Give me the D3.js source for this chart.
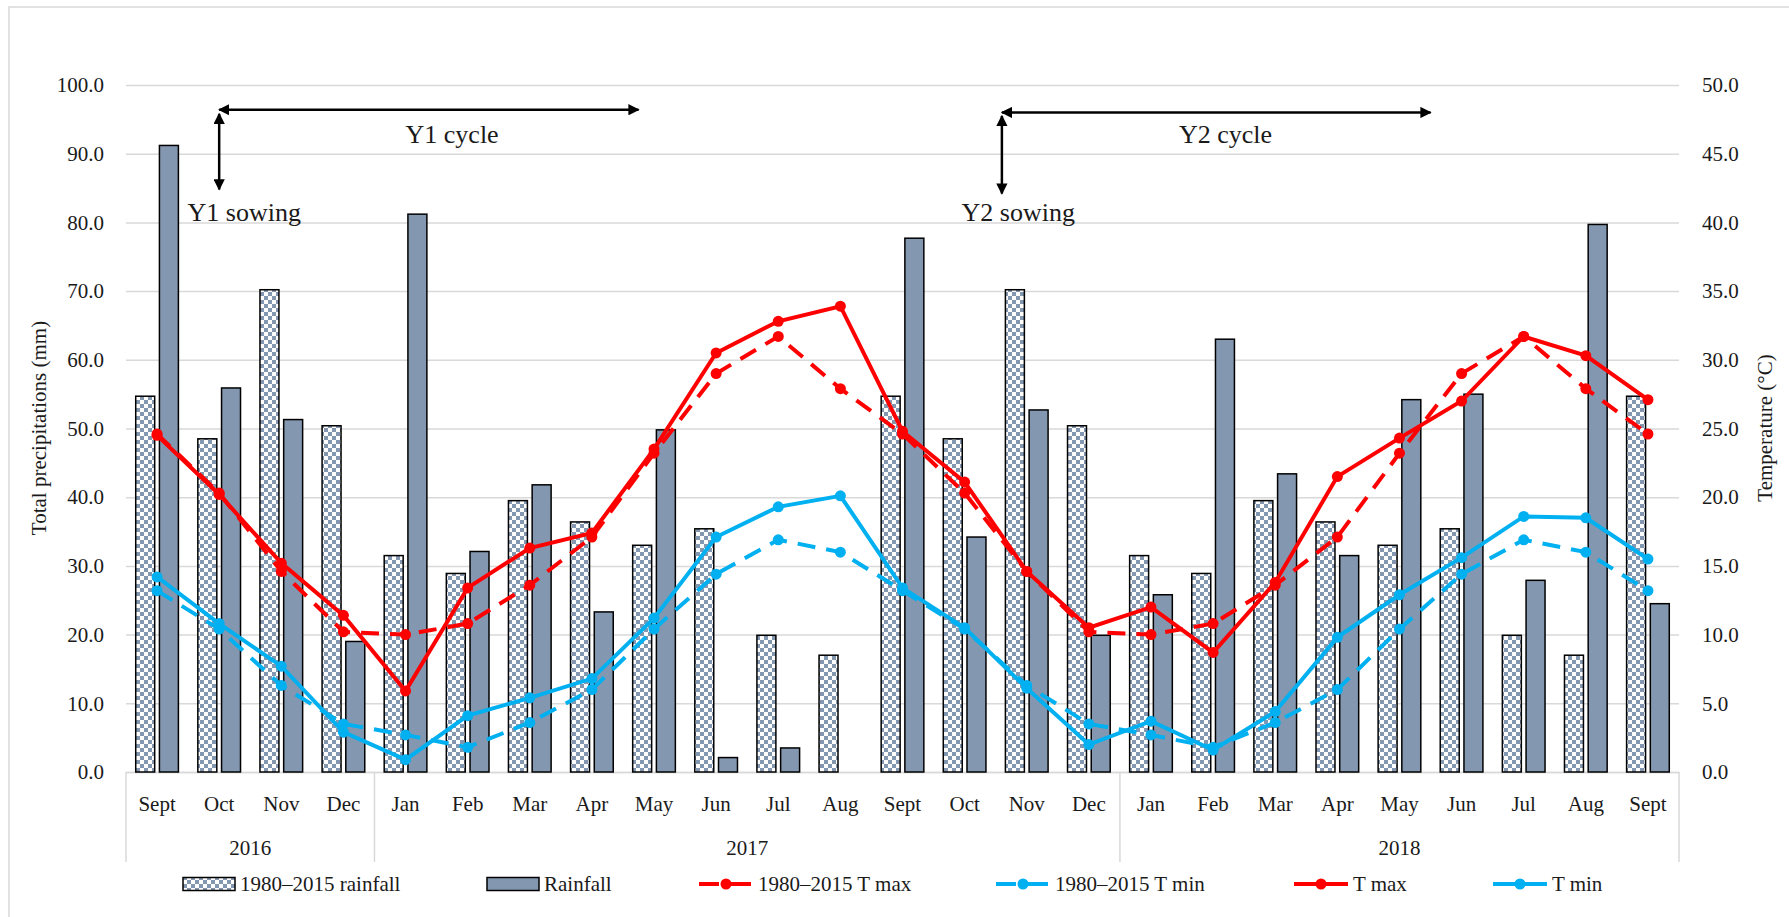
<!DOCTYPE html>
<html>
<head>
<meta charset="utf-8">
<script src="https://cdn.jsdelivr.net/npm/d3@7"></script>
<style>
  body { margin: 0; background: #fff; }
  text { font-family: "Liberation Serif", "Times New Roman", serif; fill: #1a1a1a; }
</style>
</head>
<body>
<svg id="chart"></svg>
<script>
// categories
var months = ["Sept", "Oct", "Nov", "Dec",
  "Jan", "Feb", "Mar", "Apr", "May", "Jun", "Jul", "Aug", "Sept", "Oct", "Nov", "Dec",
  "Jan", "Feb", "Mar", "Apr", "May", "Jun", "Jul", "Aug", "Sept"];
var years = ["2016", "2017", "2018"];
var yearCounts = [4, 12, 9];

// rainfall (mm), left axis
var normalRain = [54.7, 48.5, 70.2, 50.4,
  31.5, 28.9, 39.5, 36.4, 33.0, 35.4, 19.9, 17.0, 54.7, 48.5, 70.2, 50.4,
  31.5, 28.9, 39.5, 36.4, 33.0, 35.4, 19.9, 17.0, 54.7];
var rainfall = [91.2, 55.9, 51.3, 19.0,
  81.2, 32.1, 41.8, 23.3, 49.8, 2.1, 3.5, 0, 77.7, 34.2, 52.7, 19.9,
  25.8, 63.0, 43.4, 31.5, 54.2, 55.0, 27.9, 79.7, 24.5];

// temperatures (°C), right axis
var normalTmax = [24.6, 20.3, 14.6, 10.2,
  10.0, 10.8, 13.6, 17.1, 23.2, 29.0, 31.7, 27.9, 24.6, 20.3, 14.6, 10.2,
  10.0, 10.8, 13.6, 17.1, 23.2, 29.0, 31.7, 27.9, 24.6];
var normalTmin = [13.2, 10.4, 6.3, 3.5,
  2.7, 1.8, 3.6, 6.0, 10.4, 14.4, 16.9, 16.0, 13.2, 10.4, 6.3, 3.5,
  2.7, 1.8, 3.6, 6.0, 10.4, 14.4, 16.9, 16.0, 13.2];
var tmax = [24.5, 20.2, 15.2, 11.4,
  5.9, 13.4, 16.3, 17.4, 23.5, 30.5, 32.8, 33.9, 24.8, 21.1, 14.6, 10.5,
  12.0, 8.7, 13.8, 21.5, 24.3, 27.0, 31.7, 30.3, 27.1];
var tmin = [14.2, 10.8, 7.7, 2.9,
  0.9, 4.1, 5.4, 6.8, 11.2, 17.1, 19.3, 20.1, 13.4, 10.5, 6.1, 2.0,
  3.7, 1.6, 4.4, 9.8, 12.9, 15.6, 18.6, 18.5, 15.5];

var rainTicks = d3.range(0, 101, 10);
var tempTicks = d3.range(0, 51, 5);

var W = 1789, H = 917;
var plot = { left: 126, right: 1679, top: 85, bottom: 772 };

var svg = d3.select("#chart").attr("width", W).attr("height", H);

var x = d3.scaleBand().domain(d3.range(months.length)).range([plot.left, plot.right]);
var xBar = d3.scaleBand().domain(["normal", "rain"]).range([0, x.bandwidth()])
  .paddingInner(0.2).paddingOuter(0.41);
var yL = d3.scaleLinear().domain([0, 100]).range([plot.bottom, plot.top]);
var yR = d3.scaleLinear().domain([0, 50]).range([plot.bottom, plot.top]);

var red = "#ff0000", blue = "#00b0f0", barColor = "#8497b0";

// outer frame
svg.append("rect").attr("x", 9).attr("y", 7).attr("width", 1800).attr("height", 1000)
  .attr("fill", "none").attr("stroke", "#d9d9d9").attr("stroke-width", 1.5);

var defs = svg.append("defs");
var pat = defs.append("pattern").attr("id", "checker")
  .attr("patternUnits", "userSpaceOnUse").attr("width", 8).attr("height", 8);
pat.append("rect").attr("width", 8).attr("height", 8).attr("fill", "#fff");
pat.append("rect").attr("width", 4).attr("height", 4).attr("fill", barColor);
pat.append("rect").attr("x", 4).attr("y", 4).attr("width", 4).attr("height", 4).attr("fill", barColor);

defs.append("marker").attr("id", "arrow").attr("viewBox", "0 0 10 10")
  .attr("refX", 9).attr("refY", 5).attr("markerWidth", 4.5).attr("markerHeight", 4.5)
  .attr("orient", "auto-start-reverse")
  .append("path").attr("d", "M0,0L10,5L0,10z").attr("fill", "#000");

// gridlines
svg.append("g").attr("class", "grid")
  .attr("transform", "translate(" + plot.left + ",0)")
  .call(d3.axisLeft(yL).tickValues(rainTicks).tickSize(-(plot.right - plot.left)).tickFormat(""))
  .call(function (g) {
    g.select(".domain").remove();
    g.selectAll("line").attr("stroke", "#d9d9d9").attr("stroke-width", 1.5);
  });

// left axis
svg.append("g")
  .attr("transform", "translate(" + plot.left + ",0)")
  .call(d3.axisLeft(yL).tickValues(rainTicks).tickFormat(d3.format(".1f")).tickSize(0).tickPadding(22))
  .call(function (g) {
    g.select(".domain").remove();
    g.selectAll("text").style("font-size", "21px").style("font-family", null);
  });

// right axis
svg.append("g")
  .attr("transform", "translate(" + plot.right + ",0)")
  .call(d3.axisRight(yR).tickValues(tempTicks).tickFormat(d3.format(".1f")).tickSize(0).tickPadding(23))
  .call(function (g) {
    g.select(".domain").remove();
    g.selectAll("text").style("font-size", "21px").style("font-family", null);
  });

// bottom axis with month labels
svg.append("g")
  .attr("transform", "translate(0," + plot.bottom + ")")
  .call(d3.axisBottom(x).tickFormat(function (i) { return months[i]; }).tickSize(0).tickPadding(24))
  .call(function (g) {
    g.select(".domain").attr("stroke", "#d9d9d9").attr("stroke-width", 1.5);
    g.selectAll("text").style("font-size", "21px").style("font-family", null);
  });

// year groups
var starts = [0];
yearCounts.forEach(function (c, i) { starts.push(starts[i] + c); });
var sepX = starts.map(function (s) { return s < months.length ? x(s) : plot.right; });
svg.append("g").selectAll("line.sep").data(sepX).enter().append("line")
  .attr("x1", function (d) { return d; }).attr("x2", function (d) { return d; })
  .attr("y1", plot.bottom).attr("y2", plot.bottom + 90)
  .attr("stroke", "#d9d9d9").attr("stroke-width", 1.5);
svg.append("g").selectAll("text.year").data(years).enter().append("text")
  .attr("x", function (d, i) { return (sepX[i] + sepX[i + 1]) / 2; })
  .attr("y", plot.bottom + 83)
  .attr("text-anchor", "middle").style("font-size", "21px")
  .text(function (d) { return d; });

// bars
var barG = svg.append("g");
barG.selectAll("rect.normal").data(normalRain).enter().append("rect")
  .attr("x", function (d, i) { return x(i) + xBar("normal"); })
  .attr("y", function (d) { return yL(d); })
  .attr("width", xBar.bandwidth())
  .attr("height", function (d) { return yL(0) - yL(d); })
  .attr("fill", "url(#checker)").attr("stroke", "#000").attr("stroke-width", 1.5);
barG.selectAll("rect.rain").data(rainfall).enter().append("rect")
  .attr("x", function (d, i) { return x(i) + xBar("rain"); })
  .attr("y", function (d) { return yL(d); })
  .attr("width", xBar.bandwidth())
  .attr("height", function (d) { return yL(0) - yL(d); })
  .attr("fill", barColor).attr("stroke", "#000").attr("stroke-width", 1.5)
  .style("display", function (d) { return d > 0 ? null : "none"; });

// temperature lines
var series = [
  { values: normalTmax, color: red, dash: "18,11" },
  { values: normalTmin, color: blue, dash: "18,11" },
  { values: tmax, color: red, dash: null },
  { values: tmin, color: blue, dash: null }
];
var line = d3.line()
  .x(function (d, i) { return x(i) + x.bandwidth() / 2; })
  .y(function (d) { return yR(d); });

series.forEach(function (s) {
  var g = svg.append("g");
  g.append("path").attr("d", line(s.values))
    .attr("fill", "none").attr("stroke", s.color).attr("stroke-width", 4)
    .attr("stroke-dasharray", s.dash);
  g.selectAll("circle").data(s.values).enter().append("circle")
    .attr("cx", function (d, i) { return x(i) + x.bandwidth() / 2; })
    .attr("cy", function (d) { return yR(d); })
    .attr("r", 5.5).attr("fill", s.color);
});

// sowing / cycle annotations
function arrow(x1, y1, x2, y2, both) {
  svg.append("line").attr("x1", x1).attr("y1", y1).attr("x2", x2).attr("y2", y2)
    .attr("stroke", "#000").attr("stroke-width", 2.5)
    .attr("marker-end", "url(#arrow)")
    .attr("marker-start", both ? "url(#arrow)" : null);
}
var y1x = x(1) + x.bandwidth() / 2;
arrow(y1x, yL(95.8), y1x, yL(84.8), true);
arrow(y1x, yL(96.4), x(8) + x.bandwidth() * 0.25, yL(96.4), true);
var y2x = x(14) + x.bandwidth() * 0.1;
arrow(y2x, yL(95.5), y2x, yL(84.2), true);
arrow(y2x, yL(96.0), x(21), yL(96.0), true);

var notes = [
  { t: "Y1 sowing", x: x(0) + x.bandwidth() * 0.99, y: yL(80.2) },
  { t: "Y1 cycle", x: x(4) + x.bandwidth() * 0.5, y: yL(91.6) },
  { t: "Y2 sowing", x: x(13) + x.bandwidth() * 0.45, y: yL(80.2) },
  { t: "Y2 cycle", x: x(16) + x.bandwidth() * 0.95, y: yL(91.6) }
];
svg.selectAll("text.note").data(notes).enter().append("text")
  .attr("x", function (d) { return d.x; }).attr("y", function (d) { return d.y; })
  .style("font-size", "26px").text(function (d) { return d.t; });

// axis titles
svg.append("text").attr("transform", "translate(46,428) rotate(-90)")
  .attr("text-anchor", "middle").style("font-size", "21px")
  .text("Total precipitations (mm)");
svg.append("text").attr("transform", "translate(1772,428) rotate(-90)")
  .attr("text-anchor", "middle").style("font-size", "21px")
  .text("Temperature (°C)");

// legend
var legY = 884;
var legend = [
  { label: "1980–2015 rainfall", kind: "checker", x: 183 },
  { label: "Rainfall", kind: "bar", x: 487 },
  { label: "1980–2015 T max", kind: "line", color: red, dash: "20,12", x: 699 },
  { label: "1980–2015 T min", kind: "line", color: blue, dash: "20,12", x: 996 },
  { label: "T max", kind: "line", color: red, dash: null, x: 1294 },
  { label: "T min", kind: "line", color: blue, dash: null, x: 1493 }
];
legend.forEach(function (l) {
  var g = svg.append("g").attr("transform", "translate(" + l.x + "," + legY + ")");
  if (l.kind == "line") {
    g.append("line").attr("x1", 0).attr("x2", 54).attr("y1", 0).attr("y2", 0)
      .attr("stroke", l.color).attr("stroke-width", 4).attr("stroke-dasharray", l.dash);
    g.append("circle").attr("cx", 27).attr("cy", 0).attr("r", 5.5).attr("fill", l.color);
  } else {
    g.append("rect").attr("x", 0).attr("y", -6.5).attr("width", 52).attr("height", 13)
      .attr("fill", l.kind == "checker" ? "url(#checker)" : barColor)
      .attr("stroke", "#000").attr("stroke-width", 1.5);
  }
  g.append("text").attr("x", l.kind == "line" ? 59 : 57).attr("y", 0).attr("dy", "0.35em")
    .style("font-size", "21px").text(l.label);
});
</script>
</body>
</html>
